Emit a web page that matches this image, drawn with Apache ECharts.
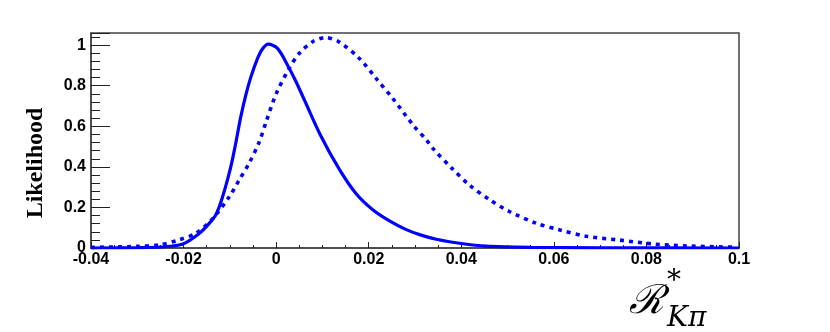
<!DOCTYPE html>
<html>
<head>
<meta charset="utf-8">
<script src="https://cdn.jsdelivr.net/npm/echarts@6/dist/echarts.min.js"></script>
<style>
  html, body { margin: 0; padding: 0; background: #fff; }
  #chart { width: 830px; height: 332px; }
</style>
</head>
<body>
<div id="chart"></div>
<script>
// solid curve (x, likelihood)
var solidX = [-0.04, -0.03, -0.025, -0.0203, -0.0167, -0.0145, -0.013, -0.0116, -0.0098, -0.0087, -0.0077, -0.0066, -0.0055, -0.0041, -0.003, -0.0017, 0.0003, 0.0025, 0.0043, 0.006, 0.0095, 0.0136, 0.0172, 0.0208, 0.0244, 0.028, 0.031, 0.0346, 0.04, 0.0454, 0.055, 0.07, 0.1];
var solidY = [0.0, 0.002, 0.005, 0.018, 0.07, 0.12, 0.165, 0.25, 0.4, 0.52, 0.64, 0.75, 0.84, 0.93, 0.98, 1.005, 0.984, 0.90, 0.82, 0.735, 0.56, 0.39, 0.27, 0.19, 0.135, 0.092, 0.066, 0.043, 0.022, 0.009, 0.003, 0.001, 0.0];
// dotted curve
var dotX = [-0.04, -0.03, -0.0253, -0.021, -0.0174, -0.0139, -0.0102, -0.008, -0.0058, -0.0037, -0.0022, 0, 0.0028, 0.005, 0.0078, 0.0107, 0.0136, 0.018, 0.0216, 0.0252, 0.0296, 0.0325, 0.0339, 0.0381, 0.0418, 0.0461, 0.0504, 0.0562, 0.0613, 0.067, 0.0742, 0.0814, 0.0887, 0.099];
var dotY = [0.003, 0.008, 0.015, 0.04, 0.072, 0.14, 0.25, 0.335, 0.42, 0.52, 0.62, 0.76, 0.885, 0.96, 1.016, 1.038, 1.016, 0.934, 0.836, 0.737, 0.606, 0.532, 0.49, 0.39, 0.31, 0.238, 0.18, 0.122, 0.089, 0.058, 0.039, 0.02, 0.01, 0.004];
var yLabels = ['0', '0.2', '0.4', '0.6', '0.8', '1'];

function pairs(xs, ys) {
    var out = [];
    for (var i = 0; i < xs.length; i++) out.push([xs[i], ys[i]]);
    return out;
}

var chart = echarts.init(document.getElementById('chart'));
var labelFont = { color: '#000', fontFamily: 'Liberation Sans', fontWeight: 'bold', fontSize: 16 };
var axisCol = '#444';

chart.setOption({
    animation: false,
    grid: { left: 91, right: 91, top: 33, bottom: 84, show: true, borderColor: axisCol, borderWidth: 1.5 },
    xAxis: {
        type: 'value', min: -0.04, max: 0.1, interval: 0.02,
        axisLine: { onZero: false, lineStyle: { color: axisCol, width: 1.5 } },
        axisTick: { inside: true, length: 6, lineStyle: { color: '#222' } },
        minorTick: { show: true, splitNumber: 4, length: 3, lineStyle: { color: '#222' } },
        splitLine: { show: false },
        axisLabel: Object.assign({ margin: 4, formatter: function (v) { return String(+v.toFixed(2)); } }, labelFont)
    },
    yAxis: {
        type: 'value', min: 0, max: 1.06, interval: 0.2,
        axisLine: { onZero: false, lineStyle: { color: axisCol, width: 1.5 } },
        axisTick: { inside: true, length: 19, lineStyle: { color: '#222' } },
        minorTick: { show: true, splitNumber: 5, length: 9, lineStyle: { color: '#222' } },
        splitLine: { show: false },
        axisLabel: Object.assign({ margin: 5, showMaxLabel: false, formatter: function (v) {
            var i = Math.round(v / 0.2);
            return Math.abs(v - i * 0.2) < 1e-6 ? yLabels[i] : '';
        } }, labelFont)
    },
    graphic: [
        { type: 'text', x: 36, y: 163, rotation: Math.PI / 2,
          style: { text: 'Likelihood', fontFamily: 'Liberation Serif', fontWeight: 'bold', fontSize: 24, fill: '#000', textAlign: 'center', textVerticalAlign: 'middle' } },
        { type: 'text', x: 629, y: 283,
          style: { text: 'ℛ', fontFamily: 'DejaVu Serif', fontStyle: 'italic', fontSize: 40, fill: '#000' } },
        { type: 'text', x: 667, y: 268,
          style: { text: '*', fontFamily: 'DejaVu Serif', fontSize: 28, fill: '#000' } },
        { type: 'text', x: 667, y: 305,
          style: { text: 'Kπ', fontFamily: 'DejaVu Serif', fontStyle: 'italic', fontSize: 28, fill: '#000' } }
    ],
    series: [
        {
            type: 'line', data: pairs(solidX, solidY), showSymbol: false,
            smooth: 0.3,
            lineStyle: { color: '#0000ff', width: 3.2 }
        },
        {
            type: 'line', data: pairs(dotX, dotY), showSymbol: false,
            smooth: 0.3,
            lineStyle: { color: '#0000ff', width: 3.6, type: [4, 5], cap: 'butt' }
        }
    ]
});
</script>
</body>
</html>
